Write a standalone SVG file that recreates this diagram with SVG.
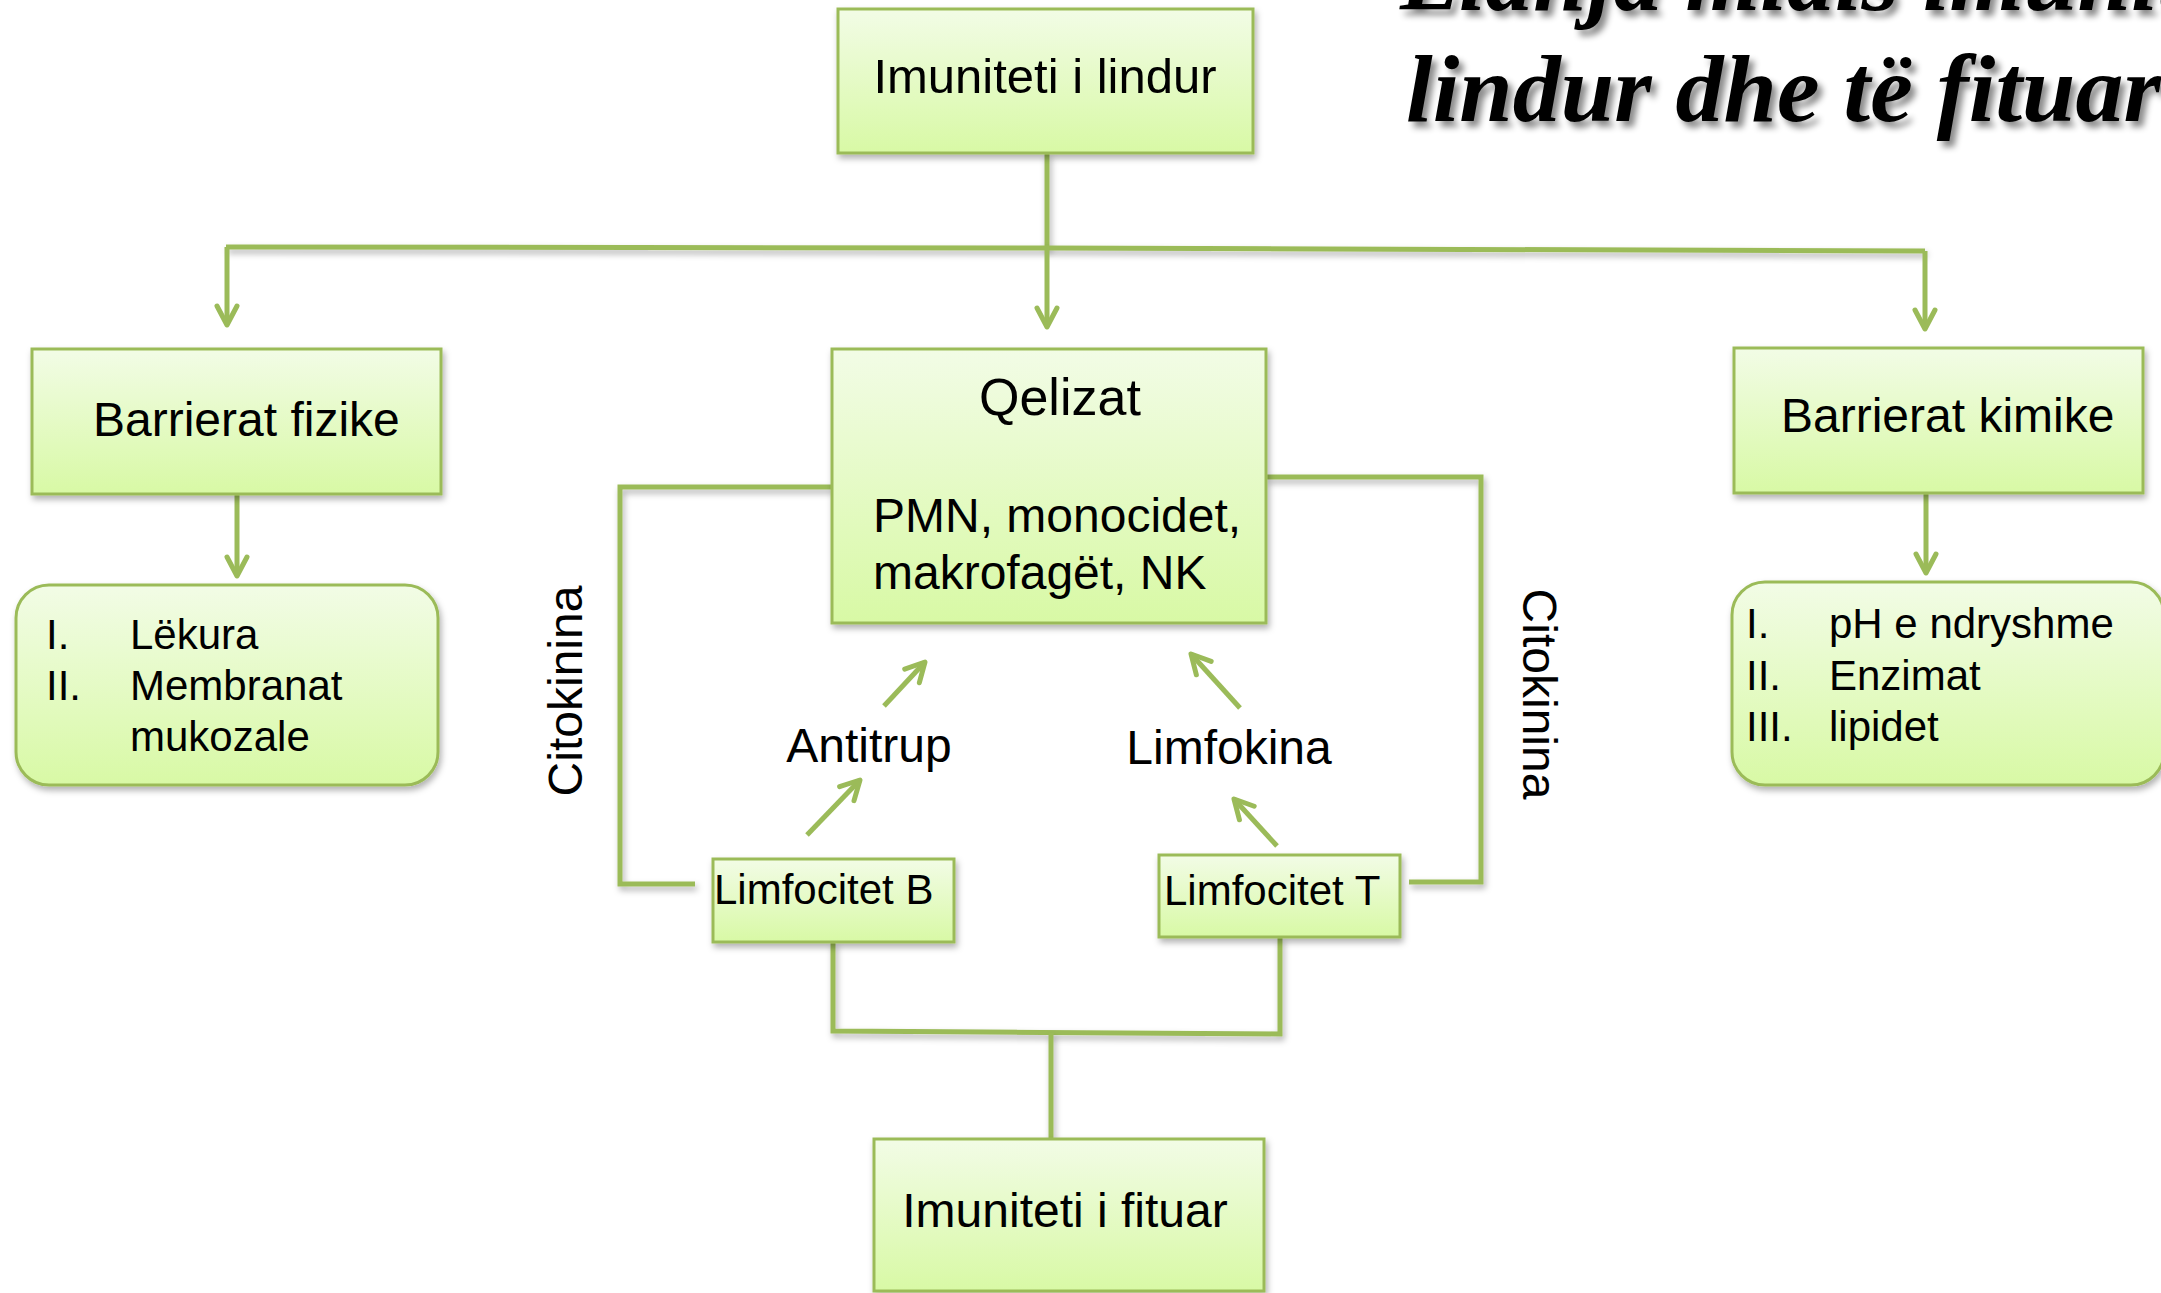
<svg xmlns="http://www.w3.org/2000/svg" width="2161" height="1293" viewBox="0 0 2161 1293">
<defs>
<linearGradient id="g" x1="0" y1="0" x2="0" y2="1">
<stop offset="0" stop-color="#F2FCE6"/>
<stop offset="1" stop-color="#D8F9A5"/>
</linearGradient>
<filter id="sh" filterUnits="userSpaceOnUse" x="0" y="0" width="2161" height="1293">
<feDropShadow dx="2" dy="4" stdDeviation="3" flood-color="#000" flood-opacity="0.3"/>
</filter>
<filter id="tsh" filterUnits="userSpaceOnUse" x="0" y="-200" width="2161" height="500">
<feDropShadow dx="5" dy="6" stdDeviation="3" flood-color="#000" flood-opacity="0.45"/>
</filter>
<marker id="arr" markerUnits="userSpaceOnUse" markerWidth="40" markerHeight="40" viewBox="-20 -20 40 40" refX="0" refY="0" orient="auto" overflow="visible">
<path d="M -19 -10 L 0 0 L -19 10" fill="none" stroke="#9BBB59" stroke-width="5" stroke-linejoin="round" stroke-linecap="round"/>
</marker>
<style>
.box{fill:url(#g);stroke:#9BBB59;stroke-width:3;filter:url(#sh)}
.t{font-family:"Liberation Sans",Arial,sans-serif;fill:#000}
.c{fill:none;stroke:#9BBB59;stroke-width:5;filter:url(#sh)}
.a{fill:none;stroke:#9BBB59;stroke-width:5;marker-end:url(#arr)}
.title{font-family:"Liberation Serif","Times New Roman",serif;font-weight:bold;font-style:italic;font-size:96px;fill:#000;filter:url(#tsh)}
</style>
</defs>
<rect width="2161" height="1293" fill="#fff"/>

<g id="title">
<text class="title" x="1400" y="10">Lidhja midis imunitetit të</text>
<text class="title" x="1406" y="121">lindur dhe të fituar</text>
</g>

<g id="connectors">
<path class="c" d="M1047 153 L1047 249"/>
<path class="c" d="M226 247 L1047 248 L1925 251"/>
<path class="a" d="M227 247 L227 325"/>
<path class="a" d="M1047 248 L1047 327"/>
<path class="a" d="M1925 251 L1925 329"/>
<path class="a" d="M237 495 L237 576"/>
<path class="a" d="M1926 493 L1926 573"/>
<path class="c" d="M832 487 L620 487 L620 884 L695 884"/>
<path class="c" d="M1266 477 L1481 477 L1481 882 L1409 882"/>
<path class="a" d="M807 835 L860 780"/>
<path class="a" d="M884 706 L925 662"/>
<path class="a" d="M1277 846 L1234 799"/>
<path class="a" d="M1240 708 L1191 654"/>
<path class="c" d="M833 942 L833 1031 L1280 1034 L1280 937"/>
<path class="c" d="M1051 1033 L1051 1138"/>
</g>

<g id="n-lindur">
<rect class="box" x="838" y="9" width="415" height="144"/>
<text class="t" x="1045" y="93" font-size="49" text-anchor="middle">Imuniteti i lindur</text>
</g>

<g id="n-fizike">
<rect class="box" x="32" y="349" width="409" height="145"/>
<text class="t" x="93" y="436" font-size="48">Barrierat fizike</text>
</g>

<g id="n-qelizat">
<rect class="box" x="832" y="349" width="434" height="274"/>
<text class="t" x="979" y="415" font-size="52">Qelizat</text>
<text class="t" x="873" y="532" font-size="48">PMN, monocidet,</text>
<text class="t" x="873" y="589" font-size="48">makrofagët, NK</text>
</g>

<g id="n-kimike">
<rect class="box" x="1734" y="348" width="409" height="145"/>
<text class="t" x="1781" y="432" font-size="48">Barrierat kimike</text>
</g>

<g id="n-list-fizike">
<rect class="box" x="16" y="585" width="422" height="200" rx="33" ry="33"/>
<text class="t" x="46" y="649" font-size="42">I.</text>
<text class="t" x="130" y="649" font-size="42">Lëkura</text>
<text class="t" x="46" y="700" font-size="42">II.</text>
<text class="t" x="130" y="700" font-size="42">Membranat</text>
<text class="t" x="130" y="751" font-size="42">mukozale</text>
</g>

<g id="n-list-kimike">
<rect class="box" x="1732" y="582" width="432" height="203" rx="33" ry="33"/>
<text class="t" x="1746" y="638" font-size="42">I.</text>
<text class="t" x="1829" y="638" font-size="42">pH e ndryshme</text>
<text class="t" x="1746" y="690" font-size="42">II.</text>
<text class="t" x="1829" y="690" font-size="42">Enzimat</text>
<text class="t" x="1746" y="741" font-size="42">III.</text>
<text class="t" x="1829" y="741" font-size="42">lipidet</text>
</g>

<g id="l-citokinina-left">
<text class="t" font-size="48" text-anchor="middle" transform="translate(582 691) rotate(-90)">Citokinina</text>
</g>
<g id="l-citokinina-right">
<text class="t" font-size="48" text-anchor="middle" transform="translate(1523 694) rotate(90)">Citokinina</text>
</g>

<g id="l-antitrup">
<text class="t" x="869" y="762" font-size="48" text-anchor="middle">Antitrup</text>
</g>
<g id="l-limfokina">
<text class="t" x="1229" y="764" font-size="48" text-anchor="middle">Limfokina</text>
</g>

<g id="n-limfB">
<rect class="box" x="713" y="859" width="241" height="83"/>
<text class="t" x="714" y="904" font-size="42">Limfocitet B</text>
</g>

<g id="n-limfT">
<rect class="box" x="1159" y="855" width="241" height="82"/>
<text class="t" x="1164" y="905" font-size="42">Limfocitet T</text>
</g>

<g id="n-fituar">
<rect class="box" x="874" y="1139" width="390" height="152"/>
<text class="t" x="1065" y="1227" font-size="48" text-anchor="middle">Imuniteti i fituar</text>
</g>
</svg>
